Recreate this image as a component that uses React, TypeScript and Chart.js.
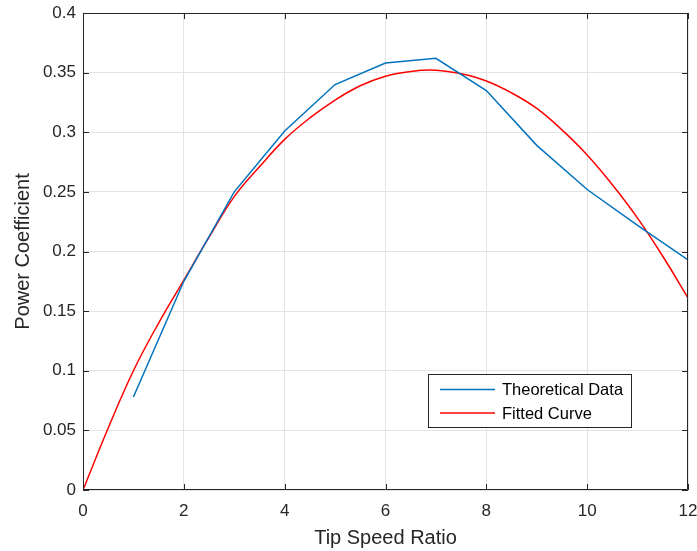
import React, { useEffect, useRef } from "react";
import { Chart, registerables } from "chart.js";

Chart.register(...registerables);

// Tip speed ratio values for the theoretical data
const theoryX = [1, 2, 3, 4, 5, 6, 7, 8, 9, 10, 11, 12];
// Power coefficient (theoretical data)
const theoryY = [0.078, 0.175, 0.25, 0.301, 0.34, 0.358, 0.362, 0.335, 0.289, 0.252, 0.222, 0.193];

// Fitted curve samples
const fitX = [0, 0.5, 1, 1.5, 2, 2.5, 3, 3.5, 4, 4.5, 5, 5.5, 6, 6.5, 7, 7.5, 8, 8.5, 9, 9.5, 10, 10.5, 11, 11.5, 12];
const fitY = [0, 0.052, 0.1, 0.14, 0.176, 0.212, 0.246, 0.271, 0.294, 0.312, 0.327, 0.339, 0.347, 0.351, 0.352, 0.349, 0.343, 0.333, 0.32, 0.302, 0.281, 0.256, 0.228, 0.196, 0.161];

const seriesLabels = ["Theoretical Data", "Fitted Curve"];
const seriesColors = ["#0072BD", "#FF0000"];

const xTitle = "Tip Speed Ratio";
const yTitle = "Power Coefficient";

const FONT = "'Liberation Sans', Arial, Helvetica, sans-serif";
const AXIS_COLOR = "#262626";

const boxPlugin = {
  id: "matlabBox",
  afterDatasetsDraw(chart: any) {
    const { ctx, chartArea } = chart;
    const { left, right, top, bottom } = chartArea;
    const xs = chart.scales.x;
    const ys = chart.scales.y;
    ctx.save();
    ctx.strokeStyle = AXIS_COLOR;
    ctx.lineWidth = 1;
    ctx.beginPath();
    ctx.rect(left + 0.5, top + 0.5, right - left - 1, bottom - top - 1);
    ctx.stroke();
    const tl = 6;
    ctx.beginPath();
    xs.ticks.forEach((t: any) => {
      const px = Math.round(xs.getPixelForValue(t.value)) + 0.5;
      ctx.moveTo(px, bottom);
      ctx.lineTo(px, bottom - tl);
      ctx.moveTo(px, top);
      ctx.lineTo(px, top + tl);
    });
    ys.ticks.forEach((t: any) => {
      const py = Math.round(ys.getPixelForValue(t.value)) + 0.5;
      ctx.moveTo(left, py);
      ctx.lineTo(left + tl, py);
      ctx.moveTo(right, py);
      ctx.lineTo(right - tl, py);
    });
    ctx.stroke();

    // legend
    const bw = 203;
    const bh = 53;
    const bx = right - 57 - bw;
    const by = bottom - 63 - bh;
    ctx.fillStyle = "#ffffff";
    ctx.fillRect(bx, by, bw, bh);
    ctx.strokeStyle = AXIS_COLOR;
    ctx.strokeRect(bx + 0.5, by + 0.5, bw, bh);
    ctx.font = `16.5px ${FONT}`;
    ctx.textBaseline = "middle";
    ctx.textAlign = "left";
    chart.data.datasets.forEach((ds: any, i: number) => {
      const ry = by + 15.5 + i * 23.5;
      ctx.strokeStyle = ds.borderColor;
      ctx.lineWidth = 1.5;
      ctx.beginPath();
      ctx.moveTo(bx + 12, ry);
      ctx.lineTo(bx + 67, ry);
      ctx.stroke();
      ctx.fillStyle = "#000000";
      ctx.fillText(ds.label, bx + 74, ry + 1);
    });
    ctx.restore();
  },
};

export default function App() {
  const ref = useRef<HTMLCanvasElement>(null);
  useEffect(() => {
    if (!ref.current) return;
    const chart = new Chart(ref.current, {
      type: "line",
      data: {
        datasets: [
          {
            label: seriesLabels[0],
            data: theoryX.map((x, i) => ({ x, y: theoryY[i] })),
            borderColor: seriesColors[0],
            backgroundColor: seriesColors[0],
            borderWidth: 1.5,
            pointRadius: 0,
            tension: 0,
          },
          {
            label: seriesLabels[1],
            data: fitX.map((x, i) => ({ x, y: fitY[i] })),
            borderColor: seriesColors[1],
            backgroundColor: seriesColors[1],
            borderWidth: 1.5,
            pointRadius: 0,
            tension: 0.4,
          },
        ],
      },
      options: {
        animation: false,
        responsive: false,
        maintainAspectRatio: false,
        layout: { padding: { left: 0, right: 9, top: 13, bottom: 0 } },
        plugins: {
          legend: { display: false },
          tooltip: { enabled: false },
        },
        scales: {
          x: {
            type: "linear",
            min: 0,
            max: 12,
            ticks: {
              stepSize: 2,
              color: AXIS_COLOR,
              font: { family: FONT, size: 17 },
              padding: 11,
              maxRotation: 0,
            },
            grid: { color: "#e3e3e3", drawTicks: false },
            border: { display: false },
            title: {
              display: true,
              text: xTitle,
              color: AXIS_COLOR,
              font: { family: FONT, size: 20 },
              padding: { top: 0, bottom: 1 },
            },
            afterFit: (s: any) => {
              s.height = 61;
              s.paddingLeft = 0;
              s.paddingRight = 0;
            },
          },
          y: {
            type: "linear",
            min: 0,
            max: 0.4,
            ticks: {
              stepSize: 0.05,
              color: AXIS_COLOR,
              font: { family: FONT, size: 17 },
              padding: 7,
              callback: (v: any) => String(+Number(v).toFixed(2)),
            },
            grid: { color: "#e3e3e3", drawTicks: false },
            border: { display: false },
            title: {
              display: true,
              text: yTitle,
              color: AXIS_COLOR,
              font: { family: FONT, size: 20 },
              padding: { top: 11, bottom: 0 },
            },
            afterFit: (s: any) => {
              s.width = 83;
              s.paddingTop = 0;
              s.paddingBottom = 0;
            },
          },
        },
      },
      plugins: [boxPlugin],
    });
    return () => chart.destroy();
  }, []);
  return (
    <div style={{ position: "fixed", left: 0, top: 0, width: 697, height: 551, background: "#ffffff" }}>
      <canvas ref={ref} width={697} height={551} style={{ display: "block", width: 697, height: 551 }} />
    </div>
  );
}
